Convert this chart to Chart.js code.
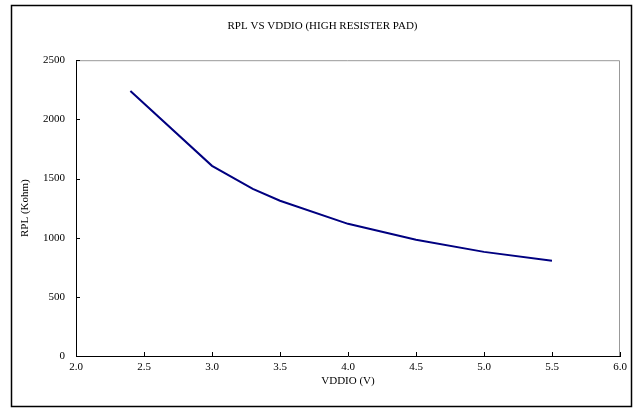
<!DOCTYPE html>
<html>
<head>
<meta charset="utf-8">
<script src="https://cdn.jsdelivr.net/npm/chart.js@4"></script>
<style>
  html, body { margin: 0; padding: 0; background: #fff; }
  #wrap { width: 635px; height: 412px; }
</style>
</head>
<body>
<div id="wrap"><canvas id="c" width="635" height="412"></canvas></div>
<script>
// data
var vddio = [2.4, 3.0, 3.3, 3.5, 4.0, 4.5, 5.0, 5.5];
var rpl = [2240, 1607, 1412, 1312, 1117, 982, 880, 806];
var xTicks = [2.0, 2.5, 3.0, 3.5, 4.0, 4.5, 5.0, 5.5, 6.0];
var yTicks = [0, 500, 1000, 1500, 2000, 2500];

var FONT = "'Liberation Serif', 'Times New Roman', serif";

// outer frame, grey top/right border of plot, inner tick marks
var framePlugin = {
    id: 'frame',
    beforeDraw: function(chart) {
        var ctx = chart.ctx;
        ctx.save();
        ctx.fillStyle = '#fff';
        ctx.fillRect(0, 0, chart.width, chart.height);
        ctx.strokeStyle = '#000';
        ctx.lineWidth = 1.5;
        ctx.strokeRect(11.5, 5.5, 620, 401);
        ctx.restore();
    },
    afterDatasetsDraw: function(chart) {
        var ctx = chart.ctx, a = chart.chartArea;
        var xs = chart.scales.x, ys = chart.scales.y;
        ctx.save();
        ctx.strokeStyle = '#999';
        ctx.lineWidth = 1;
        ctx.beginPath();
        ctx.moveTo(a.left, a.top + 0.5);
        ctx.lineTo(a.right - 0.5, a.top + 0.5);
        ctx.lineTo(a.right - 0.5, a.bottom);
        ctx.stroke();
        ctx.strokeStyle = '#000';
        ctx.beginPath();
        xTicks.forEach(function(v) {
            var px = Math.round(xs.getPixelForValue(v)) + 0.5;
            ctx.moveTo(px, a.bottom);
            ctx.lineTo(px, a.bottom - 4);
        });
        yTicks.forEach(function(v) {
            var py = Math.round(ys.getPixelForValue(v)) + 0.5;
            ctx.moveTo(a.left, py);
            ctx.lineTo(a.left + 4, py);
        });
        ctx.stroke();
        ctx.restore();
    }
};

new Chart(document.getElementById('c'), {
    type: 'line',
    data: {
        datasets: [{
            label: 'RPL',
            data: vddio.map(function(v, i) { return {x: v, y: rpl[i]}; }),
            borderColor: '#000080',
            borderWidth: 2,
            pointRadius: 0,
            tension: 0,
            fill: false
        }]
    },
    options: {
        responsive: false,
        animation: false,
        layout: {padding: {left: 10, right: 0, top: 0, bottom: 0}},
        plugins: {
            legend: {display: false},
            tooltip: {enabled: false},
            title: {
                display: true,
                text: 'RPL VS VDDIO (HIGH RESISTER PAD)',
                color: '#000',
                font: {family: FONT, size: 11, weight: 'normal'},
                padding: {top: 20, bottom: 27}
            }
        },
        scales: {
            x: {
                type: 'linear',
                min: 2, max: 6,
                afterBuildTicks: function(s) { s.ticks = xTicks.map(function(v) { return {value: v}; }); },
                afterFit: function(s) { s.height = 56; },
                grid: {display: false, drawTicks: false},
                border: {color: '#000', width: 1},
                ticks: {
                    color: '#000', padding: 5, maxRotation: 0,
                    font: {family: FONT, size: 11},
                    callback: function(v) { return v.toFixed(1); }
                },
                title: {
                    display: true, text: 'VDDIO (V)', color: '#000',
                    font: {family: FONT, size: 11},
                    padding: {top: 0, bottom: 24}
                }
            },
            y: {
                min: 0, max: 2500,
                afterBuildTicks: function(s) { s.ticks = yTicks.map(function(v) { return {value: v}; }); },
                afterFit: function(s) { s.width = 66; },
                grid: {display: false, drawTicks: false},
                border: {color: '#000', width: 1},
                ticks: {
                    color: '#000', padding: 11,
                    font: {family: FONT, size: 11},
                    callback: function(v) { return String(v); }
                },
                title: {
                    display: true, text: 'RPL (Kohm)', color: '#000',
                    font: {family: FONT, size: 11},
                    padding: {top: 9, bottom: 0}
                }
            },
            // empty right-hand axis, only reserves the gap to the frame
            y2: {
                position: 'right',
                min: 0, max: 2500,
                afterFit: function(s) { s.width = 15; },
                grid: {display: false, drawTicks: false},
                border: {display: false},
                ticks: {display: false}
            }
        }
    },
    plugins: [framePlugin]
});
</script>
</body>
</html>
